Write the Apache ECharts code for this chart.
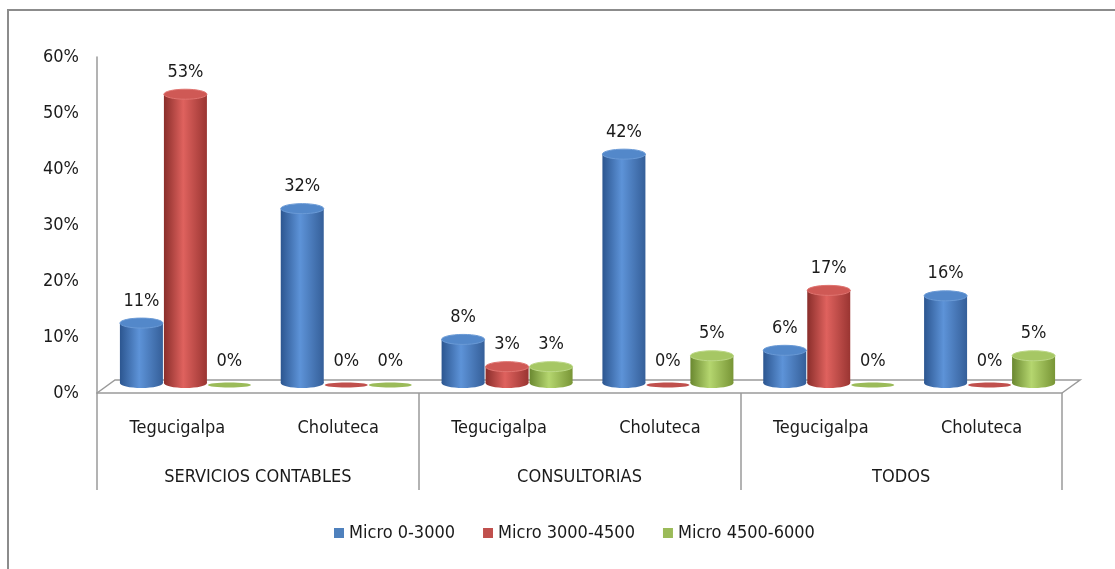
<!DOCTYPE html>
<html>
<head>
<meta charset="utf-8">
<script src="https://cdn.jsdelivr.net/npm/echarts@6/dist/echarts.min.js"></script>
<style>html,body{margin:0;padding:0;background:#fff;}#c{width:1115px;height:569px;}</style>
</head>
<body>
<div id="c"></div>
<script>
var groups = ['SERVICIOS CONTABLES', 'CONSULTORIAS', 'TODOS'];
var cities = ['Tegucigalpa', 'Choluteca'];
var seriesNames = ['Micro 0-3000', 'Micro 3000-4500', 'Micro 4500-6000'];
var micro0_3000 = [11, 32, 8, 42, 6, 16];
var micro3000_4500 = [53, 0, 3, 0, 17, 0];
var micro4500_6000 = [0, 0, 3, 5, 0, 5];
var yTicks = [0, 10, 20, 30, 40, 50, 60];

var FONT = "'Liberation Sans Narrow','DejaVu Sans Condensed','Open Sans',sans-serif";
var categories = [];
groups.forEach(function () { cities.forEach(function (c) { categories.push(c); }); });

var palettes = [
  { edge: '#2c5690', mid: '#5d93d8', right: '#355f99', top: '#5388ca', topStroke: '#6a9ad6', base: '#4F81BD' },
  { edge: '#8a2e2b', mid: '#df625e', right: '#9a3532', top: '#cf5955', topStroke: '#e07470', base: '#C0504D' },
  { edge: '#6a8830', mid: '#b5d66f', right: '#789536', top: '#a6c764', topStroke: '#bcd886', base: '#9BBB59' }
];
var allValues = [micro0_3000, micro3000_4500, micro4500_6000];

var BW = 43, GAP = 1, XSHIFT = 8, YSHIFT = -10, RY = 5, DEPTH_SCALE = 0.973;

function makeRender(si) {
  var p = palettes[si];
  return function (params, api) {
    var idx = api.value(0), v = api.value(1);
    var base = api.coord([idx, 0]);
    var top = api.coord([idx, v]);
    var cx = base[0] + (si - 1) * (BW + GAP) + XSHIFT;
    var by = base[1] + YSHIFT;
    var ty = by - (base[1] - top[1]) * DEPTH_SCALE;
    var x0 = cx - BW / 2;
    var grad = { type: 'linear', x: 0, y: 0, x2: 1, y2: 0, colorStops: [
      { offset: 0, color: p.edge }, { offset: 0.45, color: p.mid }, { offset: 1, color: p.right }] };
    var children = [];
    if (v > 0) {
      children.push({ type: 'ellipse', shape: { cx: cx, cy: by, rx: BW / 2, ry: RY }, style: { fill: grad } });
      children.push({ type: 'rect', shape: { x: x0, y: ty, width: BW, height: by - ty }, style: { fill: grad } });
      children.push({ type: 'ellipse', shape: { cx: cx, cy: ty, rx: BW / 2, ry: RY }, style: { fill: p.top, stroke: p.topStroke, lineWidth: 1 } });
    } else {
      children.push({ type: 'ellipse', shape: { cx: cx, cy: by + 2, rx: BW / 2, ry: 2.5 }, style: { fill: p.base } });
    }
    children.push({ type: 'text', style: { text: Math.round(v) + '%', x: cx, y: ty - 22, align: 'center', verticalAlign: 'middle', font: '18px ' + FONT, fill: '#1a1a1a' } });
    return { type: 'group', children: children };
  };
}

var L = 97, R = 1062, B = 393, T = 57, W = 1115, H = 569;
var chart = echarts.init(document.getElementById('c'), null, { renderer: 'canvas' });
var series = allValues.map(function (vals, si) {
  return {
    name: seriesNames[si], type: 'custom', xAxisIndex: 0, yAxisIndex: 0,
    itemStyle: { color: palettes[si].base },
    renderItem: makeRender(si),
    data: vals.map(function (v, i) { return [i, v]; }),
    z: 3
  };
});
chart.setOption({
  animation: false,
  backgroundColor: '#ffffff',
  textStyle: { fontFamily: FONT },
  grid: [
    { left: L, right: W - R, top: T, bottom: H - B },
    { left: L, right: W - R, top: T, bottom: H - B }
  ],
  xAxis: [
    { type: 'category', gridIndex: 0, data: categories, position: 'bottom',
      axisLine: { show: true, lineStyle: { color: '#9a9a9a', width: 1.5 } },
      axisTick: { show: false },
      axisLabel: { margin: 26, fontSize: 18, color: '#1a1a1a', fontFamily: FONT, interval: 0 } },
    { type: 'category', gridIndex: 1, data: groups, position: 'bottom',
      axisLine: { show: false },
      axisTick: { show: true, length: 97, lineStyle: { color: '#9a9a9a', width: 1.5 } },
      axisLabel: { margin: 75, fontSize: 18, color: '#1a1a1a', fontFamily: FONT, interval: 0 } }
  ],
  yAxis: [
    { type: 'value', gridIndex: 0, min: yTicks[0], max: yTicks[yTicks.length - 1], interval: 10,
      axisLine: { show: true, lineStyle: { color: '#9a9a9a', width: 1.5 } },
      axisTick: { show: false }, splitLine: { show: false },
      axisLabel: { margin: 18, fontSize: 18, color: '#1a1a1a', fontFamily: FONT, formatter: '{value}%' } },
    { type: 'value', gridIndex: 1, min: 0, max: 60, show: false }
  ],
  legend: {
    bottom: 22, left: 329, icon: 'rect', itemWidth: 10, itemHeight: 10, itemGap: 28,
    textStyle: { fontSize: 18, color: '#1a1a1a', fontFamily: FONT },
    data: seriesNames
  },
  graphic: [
    { type: 'rect', shape: { x: 8, y: 10, width: 1300, height: 800 }, style: { fill: 'none', stroke: '#8c8c8c', lineWidth: 2 }, z: 0, silent: true },
    { type: 'polyline', shape: { points: [[L, B], [L + 18, B - 13], [R + 18, B - 13], [R, B]] }, style: { fill: 'none', stroke: '#9a9a9a', lineWidth: 1.5 }, z: 1, silent: true }
  ],
  series: series
});
</script>
</body>
</html>
